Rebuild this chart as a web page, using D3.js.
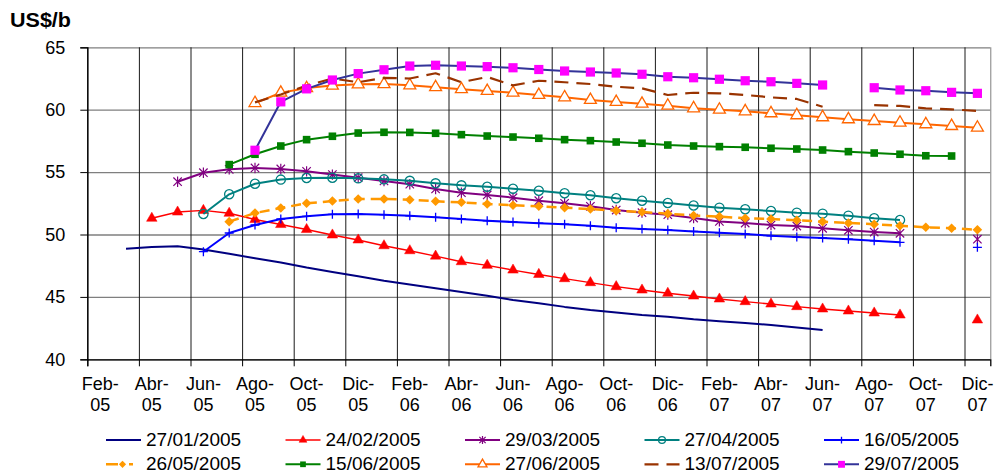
<!DOCTYPE html>
<html>
<head>
<meta charset="utf-8">
<script src="https://cdn.jsdelivr.net/npm/d3@7"></script>
<style>
  body { margin: 0; background: #fff; }
  svg { display: block; }
  text { font-family: "Liberation Sans", Arial, sans-serif; fill: #000; }
</style>
</head>
<body>
<svg id="chart" width="997" height="476"></svg>
<script>
// Monthly contract axis, Feb-05 .. Dic-07
const months = [
  "Feb-05","Mar-05","Abr-05","May-05","Jun-05","Jul-05","Ago-05","Sep-05","Oct-05","Nov-05","Dic-05",
  "Ene-06","Feb-06","Mar-06","Abr-06","May-06","Jun-06","Jul-06","Ago-06","Sep-06","Oct-06","Nov-06","Dic-06",
  "Ene-07","Feb-07","Mar-07","Abr-07","May-07","Jun-07","Jul-07","Ago-07","Sep-07","Oct-07","Nov-07","Dic-07"
];
const xTickLabels = ["Feb-05","Abr-05","Jun-05","Ago-05","Oct-05","Dic-05","Feb-06","Abr-06","Jun-06",
  "Ago-06","Oct-06","Dic-06","Feb-07","Abr-07","Jun-07","Ago-07","Oct-07","Dic-07"];
const yTicks = [40, 45, 50, 55, 60, 65];

// Forward curves (US$/b), each listed from its first contract month; null = no quote
const curve270105 = { start: "Mar-05", values: [48.85,49.0,49.05,48.8,48.45,48.1,47.75,47.35,47.0,46.65,46.3,46.0,45.7,45.4,45.1,44.75,44.5,44.2,43.95,43.75,43.55,43.4,43.2,43.05,42.9,42.75,42.55,42.35] };
const curve240205 = { start: "Abr-05", values: [51.3,51.8,51.93,51.7,51.2,50.8,50.4,49.96,49.56,49.1,48.7,48.27,47.82,47.53,47.15,46.8,46.46,46.14,45.82,45.55,45.29,45.07,44.83,44.62,44.43,44.22,44.03,43.87,43.71,43.55,null,null,43.15] };
const curve290305 = { start: "May-05", values: [54.23,54.95,55.22,55.33,55.25,55.06,54.8,54.55,54.29,54.03,53.65,53.35,53.17,52.95,52.71,52.5,52.26,51.96,51.75,51.59,51.32,51.05,50.92,50.76,50.68,50.5,50.34,50.2,50.1,null,null,49.62] };
const curve270405 = { start: "Jun-05", values: [51.64,53.22,54.07,54.4,54.53,54.55,54.5,54.42,54.3,54.1,53.94,53.83,53.67,53.51,53.3,53.14,52.9,52.71,52.52,52.32,52.15,52.02,51.88,51.75,51.67,51.51,51.3,51.16] };
const curve160505 = { start: "Jun-05", values: [48.62,50.12,50.76,51.24,51.46,51.62,51.64,51.59,51.5,51.38,51.24,51.1,51.0,50.9,50.82,50.7,50.54,50.44,50.36,50.25,50.14,50.04,49.9,49.8,49.72,49.62,49.5,49.37,null,null,48.97] };
const curve260505 = { start: "Jul-05", values: [51.03,51.72,52.12,52.5,52.68,52.84,52.84,52.79,52.66,52.58,52.44,52.34,52.26,52.15,52.04,51.91,51.8,51.67,51.52,51.43,51.3,51.24,51.14,51.03,50.92,50.82,50.7,50.58,50.5,50.38] };
const curve150605 = { start: "Jul-05", values: [55.6,56.43,57.09,57.6,57.87,58.13,58.19,58.18,58.11,58.0,57.89,57.81,57.71,57.6,57.52,57.41,57.31,57.17,57.09,57.04,56.99,56.91,56.85,56.77,56.64,56.53,56.43,56.31,56.29] };
const curve270605 = { start: "Ago-05", values: [60.53,61.36,61.73,61.93,62.03,62.05,61.95,61.8,61.64,61.5,61.36,61.18,60.99,60.78,60.62,60.48,60.32,60.11,60.0,59.87,59.71,59.55,59.39,59.23,59.09,58.96,58.83,58.69,58.56] };
const curve130705 = { start: "Ago-05", values: [60.59,61.22,61.93,62.5,62.2,62.55,62.5,62.92,62.2,62.62,61.95,62.32,62.2,62.06,61.84,61.71,61.18,61.36,61.31,61.18,60.99,60.86,60.24,null,60.37,60.3,60.11,60.03,59.9] };
const curve290705 = { start: "Ago-05", values: [56.75,60.63,61.67,62.38,62.89,63.2,63.5,63.56,63.5,63.45,63.36,63.22,63.1,63.02,62.94,62.84,62.64,62.56,62.44,62.32,62.24,62.11,61.98,null,61.76,61.58,61.52,61.39,61.31] };

// Series appearance, in legend order
const seriesDefs = [
  { name: "27/01/2005", data: curve270105, stroke: "#000080", width: 2,   dash: null,   marker: null },
  { name: "24/02/2005", data: curve240205, stroke: "#ff0000", width: 1.4, dash: null,   marker: "triFill",  mColor: "#ff0000" },
  { name: "29/03/2005", data: curve290305, stroke: "#800080", width: 2,   dash: null,   marker: "asterisk", mColor: "#800080" },
  { name: "27/04/2005", data: curve270405, stroke: "#008080", width: 2,   dash: null,   marker: "circle",   mColor: "#008080" },
  { name: "16/05/2005", data: curve160505, stroke: "#0000ff", width: 2,   dash: null,   marker: "plus",     mColor: "#0000ff" },
  { name: "26/05/2005", data: curve260505, stroke: "#ff9900", width: 2.5, dash: "10,6", marker: "diamond",  mColor: "#ff9900" },
  { name: "15/06/2005", data: curve150605, stroke: "#008000", width: 2,   dash: null,   marker: "square",   mColor: "#008000" },
  { name: "27/06/2005", data: curve270605, stroke: "#ff6600", width: 2,   dash: null,   marker: "triOpen",  mColor: "#ff6600" },
  { name: "13/07/2005", data: curve130705, stroke: "#993300", width: 2.2, dash: "14,8", marker: null },
  { name: "29/07/2005", data: curve290705, stroke: "#333399", width: 2,   dash: null,   marker: "bigSquare", mColor: "#ff00ff" }
];

const svg = d3.select("#chart");
const plot = { left: 87.3, right: 990.3, top: 47.3, bottom: 359.3 };

const x = d3.scaleLinear().domain([0, months.length]).range([plot.left, plot.right]);
const y = d3.scaleLinear().domain([40, 65]).range([plot.bottom, plot.top]);
const cx = i => x(i + 0.5);   // points sit in the middle of their month slot

// Horizontal gridlines
svg.append("g")
  .attr("transform", `translate(${plot.left},0)`)
  .call(d3.axisLeft(y).tickValues(yTicks).tickSize(-(plot.right - plot.left)).tickFormat(""))
  .call(g => g.select(".domain").remove())
  .call(g => g.selectAll("line").attr("stroke", "#7f7f7f").attr("stroke-width", 1.3));

// Vertical gridlines at every second month boundary, plus the right border
const vLines = d3.range(0, months.length, 2).concat([months.length]);
svg.append("g")
  .attr("transform", `translate(0,${plot.bottom})`)
  .call(d3.axisBottom(x).tickValues(vLines).tickSize(-(plot.bottom - plot.top)).tickFormat(""))
  .call(g => g.select(".domain").remove())
  .call(g => g.selectAll("line").attr("stroke", (d) => d === months.length ? "#7f7f7f" : "#1a1a1a").attr("stroke-width", 1));

// Y axis
svg.append("g")
  .attr("transform", `translate(${plot.left},0)`)
  .call(d3.axisLeft(y).tickValues(yTicks).tickSize(7).tickPadding(15))
  .call(g => g.select(".domain").attr("stroke", "#000").attr("stroke-width", 1.3))
  .call(g => g.selectAll("line").attr("stroke", "#000"))
  .call(g => g.selectAll("text").attr("font-size", 18).attr("font-family", "Liberation Sans, Arial, sans-serif").attr("fill", "#000"));

// X axis
svg.append("g")
  .attr("transform", `translate(0,${plot.bottom})`)
  .call(d3.axisBottom(x).tickValues(d3.range(0, months.length, 2)).tickSize(7).tickFormat(""))
  .call(g => g.select(".domain").attr("stroke", "#000").attr("stroke-width", 1.3))
  .call(g => g.selectAll("line").attr("stroke", "#000"));

const xLabels = svg.append("g").attr("font-size", 18);
xTickLabels.forEach(lbl => {
  const i = months.indexOf(lbl);
  const [mon, yr] = lbl.split("-");
  const t = xLabels.append("text").attr("text-anchor", "middle");
  t.append("tspan").attr("x", cx(i)).attr("y", 390).text(mon + "-");
  t.append("tspan").attr("x", cx(i)).attr("y", 411).text(yr);
});

// Axis unit title
svg.append("text")
  .attr("x", 10).attr("y", 26.5)
  .attr("font-size", 20).attr("font-weight", "bold")
  .attr("textLength", 61).attr("lengthAdjust", "spacingAndGlyphs")
  .text("US$/b");

// Marker drawing
function drawMarker(sel, type, color, k) {
  const s = k || 1;
  switch (type) {
    case "triFill":
      sel.append("path").attr("d", d3.symbol(d3.symbolTriangle, 48 * s * s)())
        .attr("fill", color).attr("stroke", color).attr("stroke-width", 0.5);
      break;
    case "triOpen":
      sel.append("path").attr("d", d3.symbol(d3.symbolTriangle, 62 * s * s)())
        .attr("fill", "#fff").attr("stroke", color).attr("stroke-width", 1.3);
      break;
    case "circle":
      sel.append("circle").attr("r", 4.6 * s)
        .attr("fill", "none").attr("stroke", color).attr("stroke-width", 1.3);
      break;
    case "square": {
      const h = 3.8 * s;
      sel.append("rect").attr("x", -h).attr("y", -h).attr("width", 2 * h).attr("height", 2 * h).attr("fill", color);
      break;
    }
    case "bigSquare": {
      const h = 4.6 * s;
      sel.append("rect").attr("x", -h).attr("y", -h).attr("width", 2 * h).attr("height", 2 * h).attr("fill", color);
      break;
    }
    case "diamond": {
      const h = 4.8 * s;
      sel.append("path").attr("d", `M0,${-h}L${h},0L0,${h}L${-h},0Z`).attr("fill", color);
      break;
    }
    case "asterisk": {
      const h = 4.2 * s, v = 5.2 * s;
      sel.append("path").attr("d", `M${-h},${-h}L${h},${h}M${-h},${h}L${h},${-h}M0,${-v}L0,${v}`)
        .attr("stroke", color).attr("stroke-width", 1.2).attr("fill", "none");
      break;
    }
    case "plus": {
      const h = 4.5 * s;
      sel.append("path").attr("d", `M${-h},0L${h},0M0,${-h}L0,${h}`)
        .attr("stroke", color).attr("stroke-width", 1.3).attr("fill", "none");
      break;
    }
  }
}

// Series lines and markers
const line = d3.line()
  .defined(d => d.v != null)
  .x(d => cx(d.i))
  .y(d => y(d.v));

const seriesG = svg.append("g");
seriesDefs.forEach(s => {
  const startIdx = months.indexOf(s.data.start);
  const pts = s.data.values.map((v, k) => ({ i: startIdx + k, v }));
  const g = seriesG.append("g");
  g.append("path")
    .attr("d", line(pts))
    .attr("fill", "none")
    .attr("stroke", s.stroke)
    .attr("stroke-width", s.width)
    .attr("stroke-dasharray", s.dash)
    .attr("stroke-linejoin", "round");
  if (s.marker) {
    pts.filter(d => d.v != null).forEach(d => {
      const m = g.append("g").attr("transform", `translate(${cx(d.i)},${y(d.v)})`);
      drawMarker(m, s.marker, s.mColor);
    });
  }
});

// Legend: two rows of five
const legend = svg.append("g").attr("font-size", 19);
seriesDefs.forEach((s, k) => {
  const col = k % 5, row = Math.floor(k / 5);
  const lx = 106 + col * 179.5, ly = 440 + row * 24.3;
  const g = legend.append("g").attr("transform", `translate(${lx},${ly})`);
  if (s.dash && !s.marker) {
    g.append("path").attr("d", "M0,0L14,0M22,0L35,0").attr("stroke", s.stroke).attr("stroke-width", s.width);
  } else if (s.dash) {
    g.append("path").attr("d", "M0,0L12,0M23,0L27,0").attr("stroke", s.stroke).attr("stroke-width", s.width);
  } else {
    g.append("line").attr("x1", 0).attr("x2", 35).attr("y1", 0).attr("y2", 0)
      .attr("stroke", s.stroke).attr("stroke-width", s.width);
  }
  if (s.marker) {
    const m = g.append("g").attr("transform", `translate(${s.dash ? 16.5 : 17.5},0)`);
    drawMarker(m, s.marker, s.mColor, 0.75);
  }
  g.append("text").attr("x", 40).attr("y", 6).text(s.name);
});
</script>
</body>
</html>
